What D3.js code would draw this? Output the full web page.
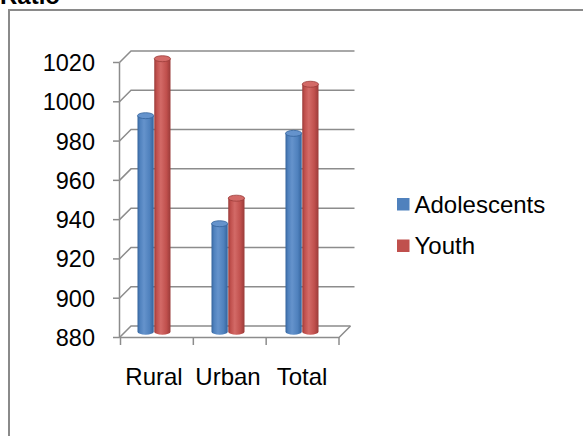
<!DOCTYPE html>
<html>
<head>
<meta charset="utf-8">
<script src="https://cdn.jsdelivr.net/npm/d3@7/dist/d3.min.js"></script>
<style>
html,body{margin:0;padding:0;background:#fff;overflow:hidden;}
svg{display:block;font-family:Arial,"Liberation Sans",sans-serif;}
</style>
</head>
<body>
<div id="chart"></div>
<script>
const categories = ["Rural", "Urban", "Total"];
const seriesNames = ["Adolescents", "Youth"];
const adolescents = [990, 935, 981];
const youth = [1019, 948, 1006];
const yTicks = [880, 900, 920, 940, 960, 980, 1000, 1020];
const titleText = "Ratio";

const seriesValues = [adolescents, youth];
const colors = ["#4F81BD", "#C0504D"];
const darks = ["#34639c", "#9a3b39"];
const lights = ["#6593cc", "#d36a67"];

const W = 583, H = 436;
const svg = d3.select("#chart").append("svg").attr("width", W).attr("height", H);

const defs = svg.append("defs");
colors.forEach((c, i) => {
  const g = defs.append("linearGradient").attr("id", "grad" + i)
    .attr("x1", "0%").attr("x2", "100%").attr("y1", "0%").attr("y2", "0%");
  g.append("stop").attr("offset", "0%").attr("stop-color", darks[i]);
  g.append("stop").attr("offset", "15%").attr("stop-color", c);
  g.append("stop").attr("offset", "40%").attr("stop-color", lights[i]);
  g.append("stop").attr("offset", "75%").attr("stop-color", c);
  g.append("stop").attr("offset", "100%").attr("stop-color", darks[i]);
});

// outer border
svg.append("path").attr("d", `M9,${H + 5} L9,10 L${W + 5},10`)
  .attr("fill", "none").attr("stroke", "#8a8a8a").attr("stroke-width", 2);

// title
svg.append("text").attr("x", 0).attr("y", 4).attr("font-size", 24).attr("font-weight", "bold")
  .attr("fill", "#000").text(titleText);

// geometry
const frontX0 = 119.5, frontX1 = 339;
const dx = 11.5, dy = -11.5;
const yFront = d3.scaleLinear().domain([880, 1020]).range([337.5, 62.5]);
const yBar = d3.scaleLinear().domain([880, 1020]).range([331.75, 56.75]);
const gridColor = "#8c8c8c";

const grid = svg.append("g").attr("stroke", gridColor).attr("stroke-width", 1.5).attr("fill", "none");
yTicks.forEach(t => {
  const y = yFront(t);
  grid.append("path").attr("d", `M${frontX0},${y} L${frontX0 + dx},${y + dy} L${t === 880 ? frontX1 + dx : 354.5},${y + dy}`);
  grid.append("line").attr("x1", frontX0 - 6.5).attr("x2", frontX0).attr("y1", y).attr("y2", y);
});
// front y axis
grid.append("line").attr("x1", frontX0).attr("x2", frontX0).attr("y1", yFront(1020)).attr("y2", yFront(880));
// floor front edge and right diagonal
grid.append("path").attr("d", `M${frontX0},${yFront(880)} L${frontX1},${yFront(880)} L${frontX1 + dx},${yFront(880) + dy}`);

// y labels
svg.append("g").selectAll("text").data(yTicks).join("text")
  .attr("x", 95).attr("y", d => yFront(d)).attr("dy", "0.36em")
  .attr("text-anchor", "end").attr("font-size", 23.5).attr("fill", "#000").text(d => d);

// category ticks (front)
const xTickScale = d3.scaleLinear().domain([0, categories.length]).range([frontX0 + 1, frontX1]);
d3.range(categories.length + 1).forEach(i => {
  grid.append("line").attr("x1", xTickScale(i)).attr("x2", xTickScale(i))
    .attr("y1", yFront(880)).attr("y2", yFront(880) + 7.5);
});

// bars
const x0 = d3.scaleBand().domain(categories).range([117, 339]).padding(0);
const x1 = d3.scaleBand().domain(seriesNames).range([0, 33]).paddingInner(0.03);
const ry = 3;
const bars = svg.append("g");
categories.forEach((cat, ci) => {
  const cx = x0(cat) + x0.bandwidth() / 2 - 16.5;
  seriesNames.forEach((s, si) => {
    const v = seriesValues[si][ci];
    const xl = cx + x1(s), w = x1.bandwidth();
    const yt = yBar(v), yb = yBar(880);
    const g = bars.append("g");
    g.append("path")
      .attr("d", `M${xl},${yt} L${xl},${yb} A${w / 2},${ry} 0 0 0 ${xl + w},${yb} L${xl + w},${yt} Z`)
      .attr("fill", `url(#grad${si})`);
    g.append("ellipse").attr("cx", xl + w / 2).attr("cy", yt).attr("rx", w / 2).attr("ry", ry)
      .attr("fill", lights[si]).attr("stroke", darks[si]).attr("stroke-width", 0.8);
  });
});

// category labels
svg.append("g").selectAll("text").data(categories).join("text")
  .attr("x", d => x0(d) + x0.bandwidth() / 2).attr("y", 385)
  .attr("text-anchor", "middle").attr("font-size", 24).attr("fill", "#000").text(d => d);

// legend
const legend = svg.append("g");
seriesNames.forEach((s, i) => {
  const ly = 204 + i * 41.5;
  legend.append("rect").attr("x", 397).attr("y", ly - 6).attr("width", 12.5).attr("height", 12.5)
    .attr("fill", colors[i]);
  legend.append("text").attr("x", 414.5).attr("y", ly).attr("dy", "0.36em")
    .attr("font-size", 24).attr("fill", "#000").text(s);
});
</script>
</body>
</html>
